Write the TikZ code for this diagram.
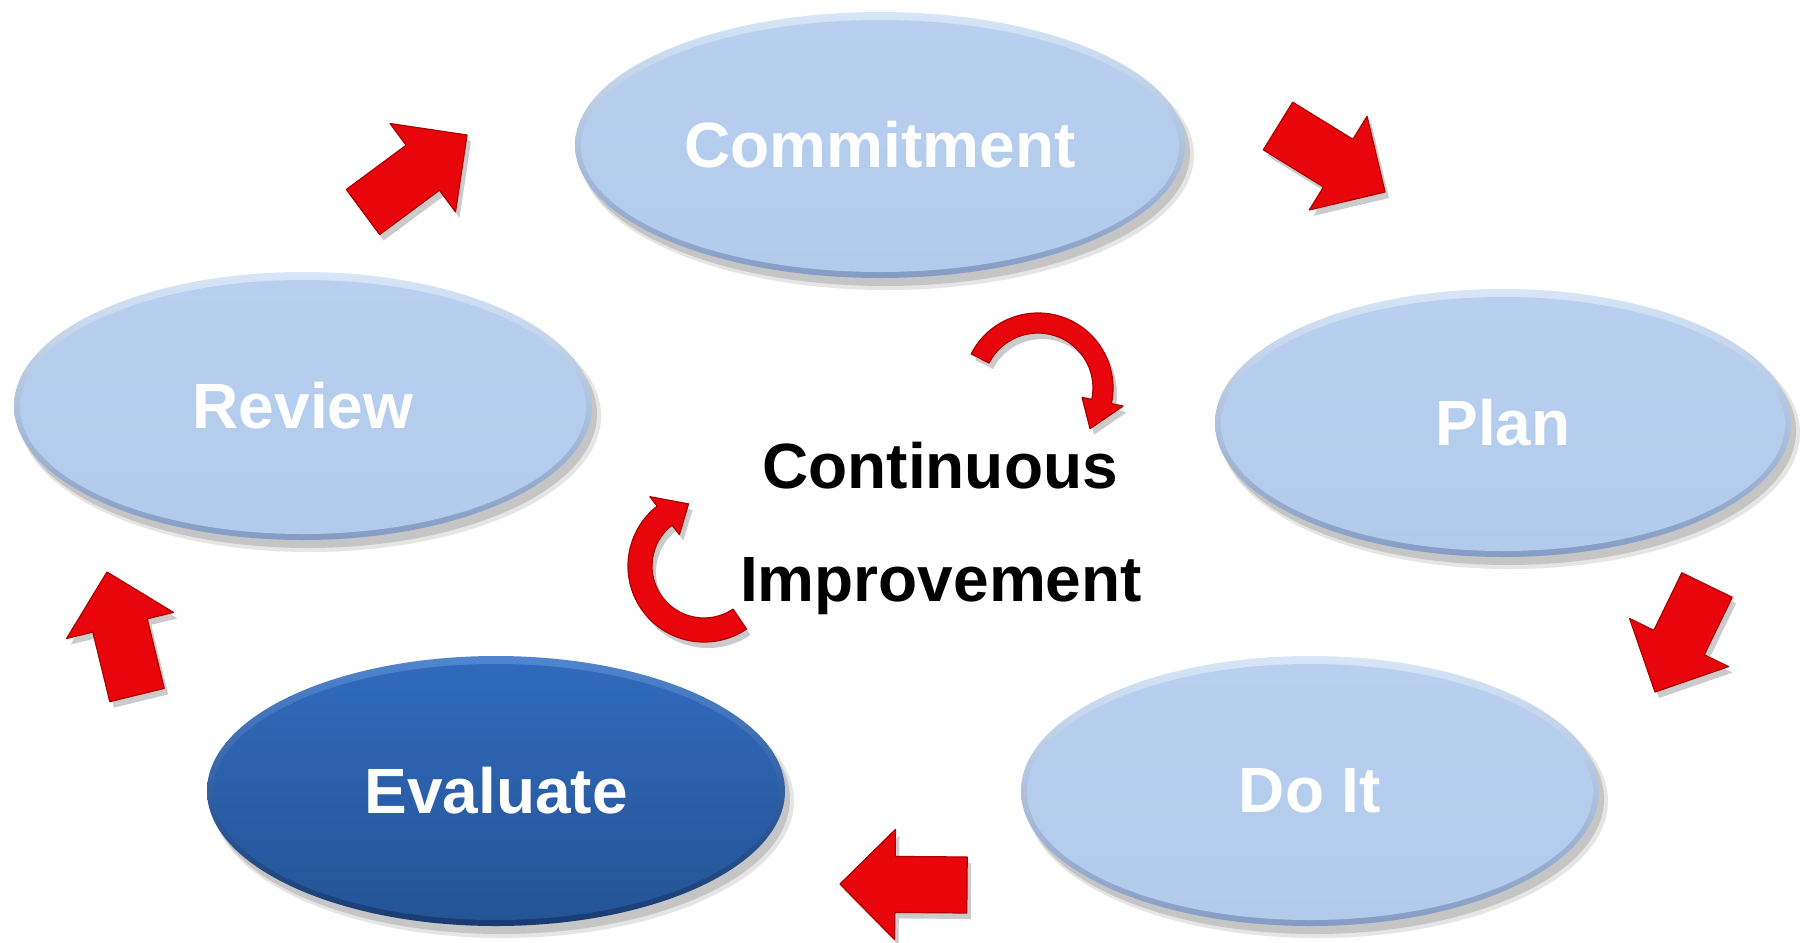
\documentclass[tikz,border=0pt]{standalone}
\usepackage{fontspec}
\setmainfont{Liberation Sans}
\usetikzlibrary{calc,shapes.geometric}
\definecolor{lbRimTop}{RGB}{215,230,248}
\definecolor{lbRimBot}{RGB}{132,156,196}
\definecolor{lbInTop}{RGB}{184,207,239}
\definecolor{lbInBot}{RGB}{178,203,236}
\definecolor{dkRimTop}{RGB}{80,134,208}
\definecolor{dkRimBot}{RGB}{24,58,112}
\definecolor{dkInTop}{RGB}{48,106,188}
\definecolor{dkInBot}{RGB}{36,84,150}
\definecolor{arrRed}{RGB}{232,6,12}
\definecolor{arrEdge}{RGB}{175,0,0}
\newcommand\ovalnode[7]{%
  \fill[black!45, opacity=0.22] (#2+7,#3+10) ellipse [x radius=#4+2, y radius=#5+2];
  \fill[black!45, opacity=0.35] (#2+5,#3+8) ellipse [x radius=#4, y radius=#5];
  \shade[top color=#6RimTop, bottom color=#6RimBot] (#2,#3) ellipse [x radius=#4, y radius=#5];
  \shade[top color=#6InTop, bottom color=#6InBot] (#2,#3+1) ellipse [x radius=#4-6, y radius=#5-7];
  \node[oval, minimum width=2*#4, minimum height=2*#5] (#1) at (#2,#3) {#7};
}
\newcommand\arrpts[2]{($(#1)!28pt!90:(#2)$) -- ($(nk)!28pt!90:(#2)$) -- ($(nk)!55pt!90:(#2)$) -- (#2) -- ($(nk)!55pt!-90:(#2)$) -- ($(nk)!28pt!-90:(#2)$) -- ($(#1)!28pt!-90:(#2)$) -- cycle}
\newcommand\blockarr[2]{%
  \coordinate (nk) at ($(#2)!55pt!(#1)$);
  \path[arrshadow, transform canvas={xshift=4pt,yshift=-6pt}] \arrpts{#1}{#2};
  \path[arrfill] \arrpts{#1}{#2};
}
\begin{document}
\begin{tikzpicture}[x=1pt,y=-1pt,
  oval/.style={ellipse, inner sep=0pt, draw=none, font=\bfseries\fontsize{64}{72}\selectfont, text=white},
  arrfill/.style={fill=arrRed, draw=arrEdge, line width=1.2pt, line join=round},
  arrshadow/.style={fill=black!45, opacity=0.45},
  midtext/.style={font=\bfseries\fontsize{64}{72}\selectfont, text=black, anchor=base, inner sep=0pt}
]
\useasboundingbox (0,0) rectangle (1803,942);
\fill[white] (0,0) rectangle (1803,942);

% ovals
\ovalnode{commit}{880}{145}{305}{133}{lb}{Commitment}
\ovalnode{review}{303}{406}{289}{134}{lb}{Review}
\ovalnode{plan}{1503}{423}{288}{134}{lb}{Plan}
\ovalnode{doit}{1310}{791}{289}{135}{lb}{Do It}
\ovalnode{evaluate}{496}{791}{289}{135}{dk}{Evaluate}

% block arrows
\coordinate (t1) at (363,212); \coordinate (h1) at (467,135);
\coordinate (t2) at (1278,126); \coordinate (h2) at (1385,192);
\coordinate (t3) at (1707,585); \coordinate (h3) at (1655,692);
\coordinate (t4) at (967,885); \coordinate (h4) at (840,884);
\coordinate (t5) at (137,695); \coordinate (h5) at (107,572);
\blockarr{t1}{h1}
\blockarr{t2}{h2}
\blockarr{t3}{h3}
\blockarr{t4}{h4}
\blockarr{t5}{h5}

% curved arrows
\begin{scope}[shift={(1038,388)}, yscale=-1]
  \path[arrshadow, transform canvas={xshift=4pt,yshift=-6pt}] (153:75) arc[start angle=153,end angle=-12,radius=75] -- (-12:87) -- (-38:66) -- (-12:45) -- (-12:55) arc[start angle=-12,end angle=153,radius=55] -- cycle;
  \path[arrfill] (153:75) arc[start angle=153,end angle=-12,radius=75] -- (-12:87) -- (-38:66) -- (-12:45) -- (-12:55) arc[start angle=-12,end angle=153,radius=55] -- cycle;
\end{scope}
\begin{scope}[shift={(704,566)}, yscale=-1]
  \path[arrshadow, transform canvas={xshift=4pt,yshift=-6pt}] (-56:76) arc[start angle=-56,end angle=-232,radius=76] -- (-232:88) -- (-256:64) -- (-232:40) -- (-232:52) arc[start angle=-232,end angle=-56,radius=52] -- cycle;
  \path[arrfill] (-56:76) arc[start angle=-56,end angle=-232,radius=76] -- (-232:88) -- (-256:64) -- (-232:40) -- (-232:52) arc[start angle=-232,end angle=-56,radius=52] -- cycle;
\end{scope}

% centre text
\node[midtext] (cont) at (940,488) {Continuous};
\node[midtext] (impr) at (941,601) {Improvement};
\end{tikzpicture}
\end{document}
